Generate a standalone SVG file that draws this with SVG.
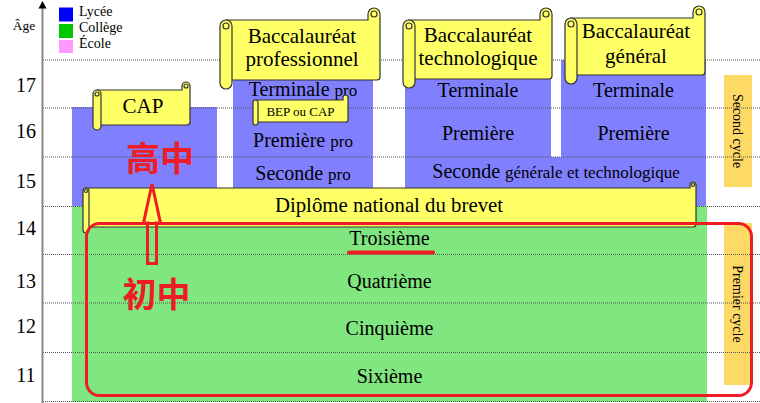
<svg xmlns="http://www.w3.org/2000/svg" width="760" height="403" viewBox="0 0 760 403">
<style>
.t{font-family:"Liberation Serif","Times New Roman",serif;fill:#000}
.grid{stroke:#555;stroke-width:1;stroke-dasharray:1 1;fill:none}
.ban{fill:#ffff66;stroke:#333;stroke-width:1.2}
.lyc{fill:#8080ff}
.col{fill:#80e680}
.side{fill:#ffd966}
.red{fill:none;stroke:#ee1c25;stroke-width:3}
.cjk{font-family:"Noto Sans CJK SC","Noto Sans CJK TC",sans-serif;font-weight:bold;fill:#ee1c25;font-size:34px}
</style>
<rect width="760" height="403" fill="#fff"/>

<!-- colored areas -->
<g id="areas">
<rect class="lyc" x="72" y="107" width="145" height="99"/>
<rect class="lyc" x="233" y="60" width="140" height="146"/>
<rect class="lyc" x="405" y="60" width="146" height="146"/>
<rect class="lyc" x="561" y="60" width="145" height="146"/>
<rect class="lyc" x="551" y="157" width="10" height="49"/>
<rect class="col" x="72" y="206" width="635" height="196"/>
<rect class="side" x="724" y="75" width="28" height="112"/>
<rect class="side" x="724" y="223" width="28" height="162"/>
</g>

<!-- grid lines -->
<g id="grid">
<line class="grid" x1="43" y1="60" x2="760" y2="60"/>
<line class="grid" x1="43" y1="108" x2="760" y2="108"/>
<line class="grid" x1="43" y1="157" x2="760" y2="157"/>
<line class="grid" x1="43" y1="206.5" x2="760" y2="206.5"/>
<line class="grid" x1="43" y1="254.5" x2="760" y2="254.5"/>
<line class="grid" x1="43" y1="303" x2="760" y2="303"/>
<line class="grid" x1="43" y1="352.5" x2="760" y2="352.5"/>
<line class="grid" x1="43" y1="401.5" x2="760" y2="401.5"/>
</g>

<!-- axis -->
<g id="axis">
<line x1="42.5" y1="6" x2="42.5" y2="403" stroke="#888" stroke-width="2"/>
<polygon points="38.5,8.5 42.5,1 46.5,8.5" fill="#000"/>
<text class="t" x="24" y="30" font-size="13.5" text-anchor="middle">Âge</text>
<text class="t" x="26" y="92" font-size="20" text-anchor="middle">17</text>
<text class="t" x="26" y="138" font-size="20" text-anchor="middle">16</text>
<text class="t" x="26" y="188" font-size="20" text-anchor="middle">15</text>
<text class="t" x="26" y="235" font-size="20" text-anchor="middle">14</text>
<text class="t" x="26" y="288" font-size="20" text-anchor="middle">13</text>
<text class="t" x="26" y="333" font-size="20" text-anchor="middle">12</text>
<text class="t" x="26" y="382" font-size="20" text-anchor="middle">11</text>
</g>

<!-- legend -->
<g id="legend">
<rect x="59" y="7.5" width="14" height="14" fill="#0000ff"/>
<rect x="59" y="24" width="14" height="14" fill="#00c800"/>
<rect x="59" y="40" width="14" height="13" fill="#ff99ff"/>
<text class="t" x="79" y="16" font-size="14">Lycée</text>
<text class="t" x="79" y="32" font-size="14">Collège</text>
<text class="t" x="79" y="48" font-size="14">École</text>
</g>

<!-- row labels -->
<g id="pro-rows">
<text class="t" x="303" y="96" font-size="20" text-anchor="middle">Terminale <tspan font-size="17">pro</tspan></text>
<text class="t" x="303" y="147" font-size="20" text-anchor="middle">Première <tspan font-size="17">pro</tspan></text>
<text class="t" x="303" y="180" font-size="20" text-anchor="middle">Seconde <tspan font-size="17">pro</tspan></text>
</g>
<g id="techno-rows">
<text class="t" x="478" y="97" font-size="20" text-anchor="middle">Terminale</text>
<text class="t" x="478" y="140" font-size="20" text-anchor="middle">Première</text>
</g>
<g id="general-rows">
<text class="t" x="633.5" y="97" font-size="20" text-anchor="middle">Terminale</text>
<text class="t" x="633.5" y="140" font-size="20" text-anchor="middle">Première</text>
</g>
<g id="seconde-gt">
<text class="t" x="556" y="178" font-size="20" text-anchor="middle">Seconde <tspan font-size="17">générale et technologique</tspan></text>
</g>
<g id="college-rows">
<text class="t" x="389.5" y="245" font-size="20" text-anchor="middle">Troisième</text>
<text class="t" x="389.5" y="288" font-size="20" text-anchor="middle">Quatrième</text>
<text class="t" x="389.5" y="335" font-size="20" text-anchor="middle">Cinquième</text>
<text class="t" x="389.5" y="383" font-size="20" text-anchor="middle">Sixième</text>
</g>

<!-- cycle bars -->
<g id="second-cycle">
<text class="t" font-size="14" text-anchor="middle" transform="translate(733,131) rotate(90)">Second cycle</text>
</g>
<g id="premier-cycle">
<text class="t" font-size="14" text-anchor="middle" transform="translate(733,304) rotate(90)">Premier cycle</text>
</g>

<!-- banners -->
<g id="cap">
<path class="ban" d="M97,90 H182 V86 A4,4 0 0 1 190,86 V122 Q190,125 187,125 H97 Z"/>
<circle class="ban" cx="186" cy="86" r="2"/>
<path class="ban" d="M93,94 A4,4 0 0 1 101,94 V126 A4,4 0 0 1 93,126 Z"/>
<circle class="ban" cx="97" cy="94" r="2"/>
<text class="t" x="143" y="113" font-size="21" text-anchor="middle">CAP</text>
</g>

<g id="bac-pro">
<path class="ban" d="M226,20 H368 V14 A6,6 0 0 1 380,14 V77 Q380,80 377,80 H226 Z"/>
<circle class="ban" cx="374" cy="14" r="3"/>
<path class="ban" d="M220,26 A6,6 0 0 1 232,26 V83 A6,6 0 0 1 220,83 Z"/>
<circle class="ban" cx="226" cy="26" r="3"/>
<text class="t" x="302" y="43" font-size="21" text-anchor="middle">Baccalauréat</text>
<text class="t" x="302" y="66" font-size="21" text-anchor="middle">professionnel</text>
</g>

<g id="bac-techno">
<path class="ban" d="M409,20 H540 V14 A6,6 0 0 1 552,14 V76 Q552,79 549,79 H409 Z"/>
<circle class="ban" cx="546" cy="14" r="3"/>
<path class="ban" d="M403,26 A6,6 0 0 1 415,26 V82 A6,6 0 0 1 403,82 Z"/>
<circle class="ban" cx="409" cy="26" r="3"/>
<text class="t" x="478" y="42" font-size="21" text-anchor="middle">Baccalauréat</text>
<text class="t" x="478" y="65" font-size="21" text-anchor="middle">technologique</text>
</g>

<g id="bac-general">
<path class="ban" d="M571,18 H693 V12 A6,6 0 0 1 705,12 V72 Q705,75 702,75 H571 Z"/>
<circle class="ban" cx="699" cy="12" r="3"/>
<path class="ban" d="M565,24 A6,6 0 0 1 577,24 V78 A6,6 0 0 1 565,78 Z"/>
<circle class="ban" cx="571" cy="24" r="3"/>
<text class="t" x="636" y="38" font-size="21" text-anchor="middle">Baccalauréat</text>
<text class="t" x="636" y="63" font-size="21" text-anchor="middle">général</text>
</g>

<g id="bep">
<path class="ban" d="M255.5,100 H343 V97.5 A2.5,2.5 0 0 1 348,97.5 V120 Q348,122 346,122 H255.5 Z"/>
<path class="ban" d="M253,102.5 A2.5,2.5 0 0 1 258,102.5 V122.5 A2.5,2.5 0 0 1 253,122.5 Z"/>
<text class="t" x="300.5" y="116" font-size="13" text-anchor="middle">BEP ou CAP</text>
</g>

<g id="brevet">
<path class="ban" d="M86,188 H690 V185 A3,3 0 0 1 696,185 V224 Q696,227 693,227 H86 Z"/>
<circle class="ban" cx="693" cy="185" r="1.5"/>
<path class="ban" d="M83,191 A3,3 0 0 1 89,191 V230 A3,3 0 0 1 83,230 Z"/>
<circle class="ban" cx="86" cy="191" r="1.5"/>
<text class="t" x="389" y="212" font-size="20.8" text-anchor="middle">Diplôme national du brevet</text>
</g>

<!-- red annotations -->
<g id="college-frame">
<rect class="red" x="86.5" y="223.5" width="665" height="172" rx="13"/>
<line x1="349" y1="252.5" x2="433" y2="252.5" stroke="#ee1c25" stroke-width="4" stroke-linecap="round"/>
</g>
<g id="label-lycee">
<text class="cjk" x="160" y="171" text-anchor="middle">高中</text>
</g>
<g id="label-college">
<text class="cjk" x="156.5" y="307" text-anchor="middle">初中</text>
</g>
<g id="connectors">
<path class="red" stroke-linejoin="miter" d="M152,184 L160.5,223 H156.5 V263.5 H147.5 V223 H143.5 Z"/>
</g>
</svg>
